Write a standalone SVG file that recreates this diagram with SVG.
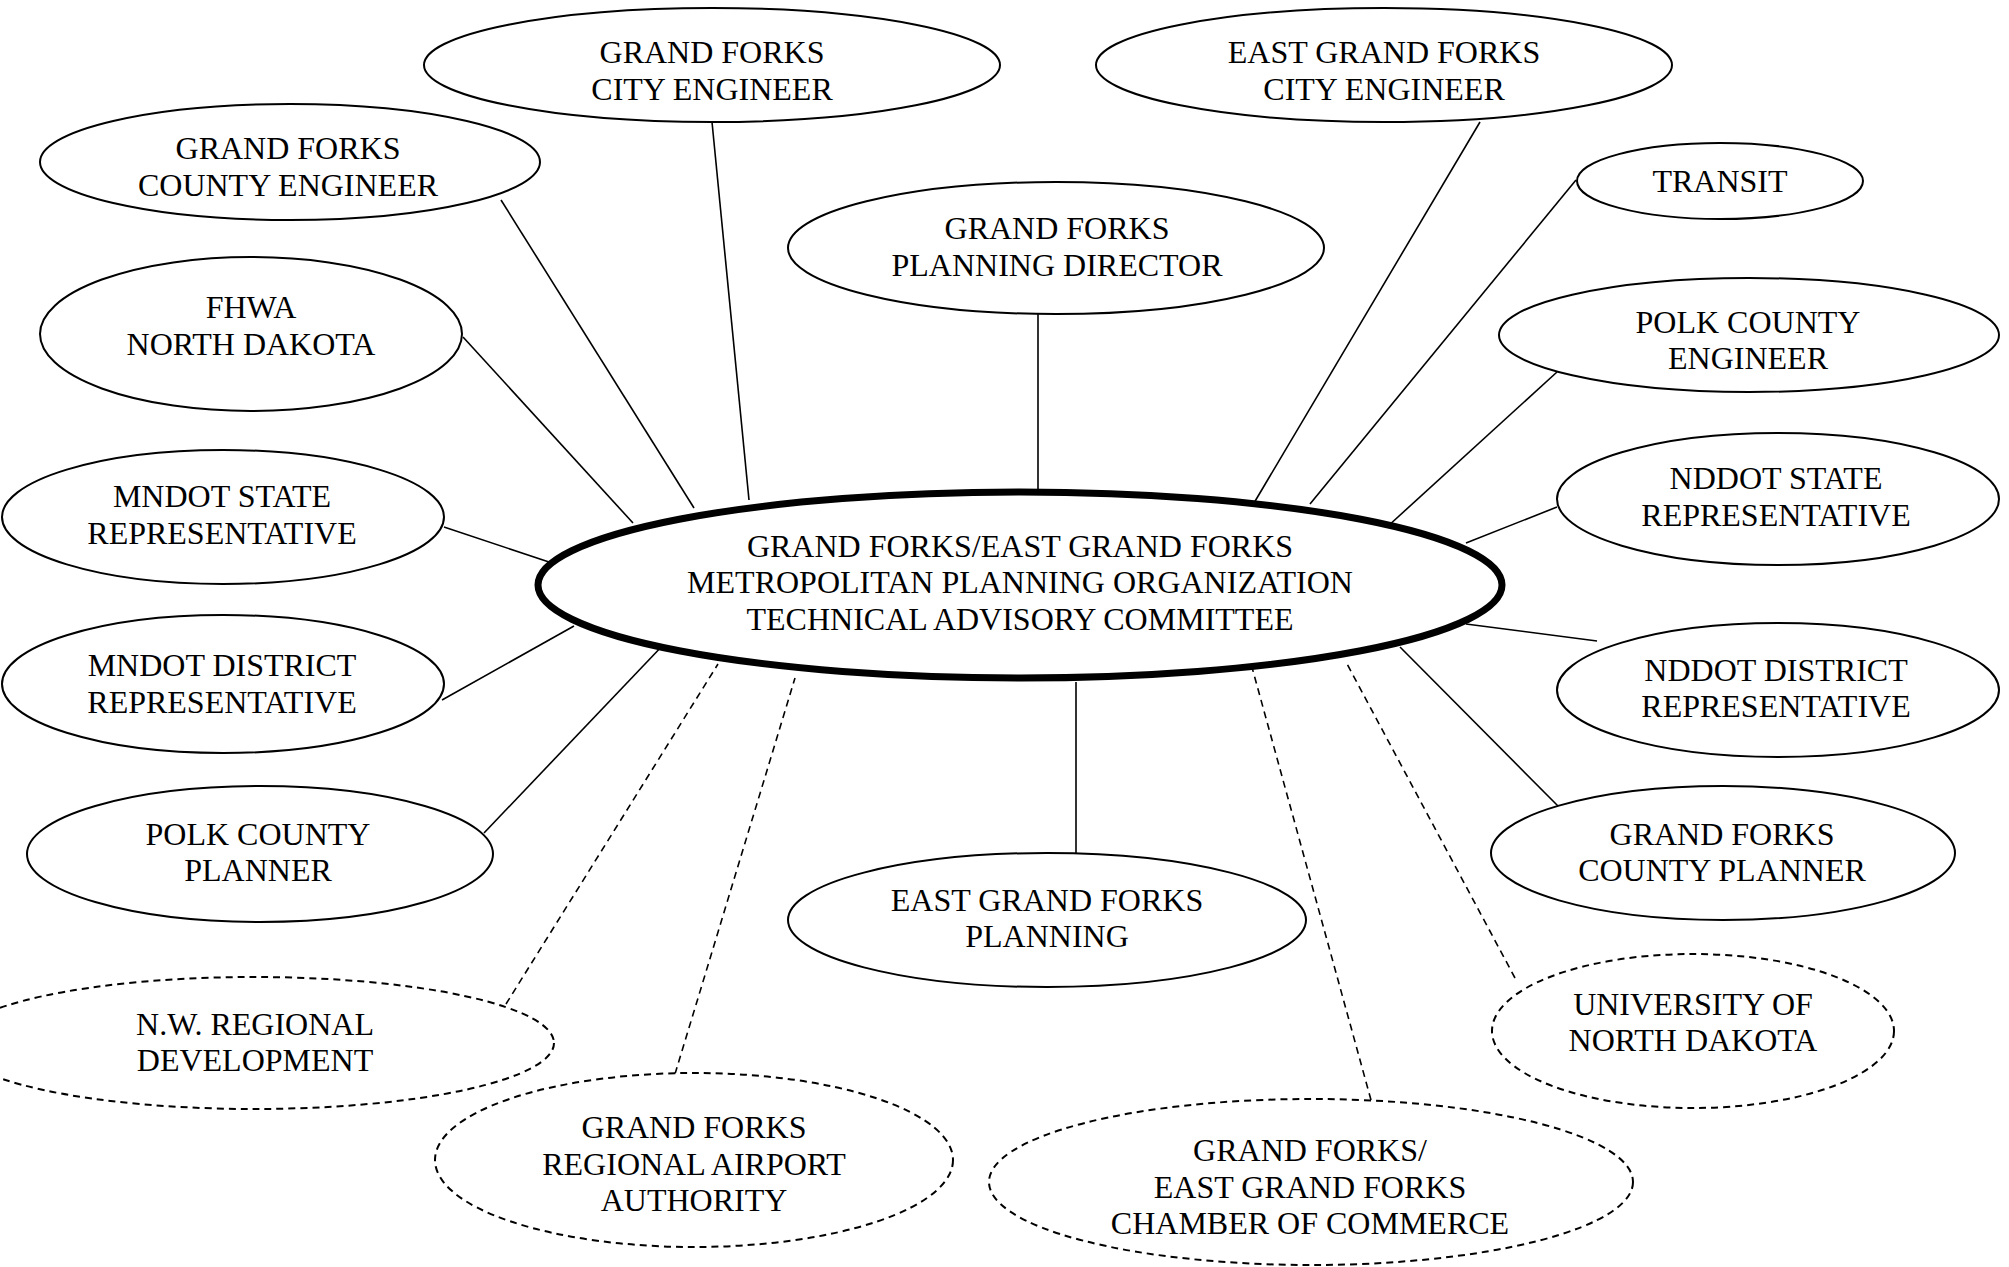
<svg xmlns="http://www.w3.org/2000/svg" width="2009" height="1267" viewBox="0 0 2009 1267">
<style>
.n{fill:#fff;stroke:#000;stroke-width:2}
.d{fill:#fff;stroke:#000;stroke-width:2;stroke-dasharray:7 5}
.c{fill:#fff;stroke:#000;stroke-width:7}
text{font-family:"Liberation Serif","Times New Roman",serif;font-size:32px;fill:#000;text-anchor:middle}
.l{stroke:#000;stroke-width:1.6;fill:none}
.ld{stroke:#000;stroke-width:1.6;fill:none;stroke-dasharray:7 5}
</style>
<g id="connectors">
<line class="l" x1="712" y1="122" x2="749" y2="500"/>
<line class="l" x1="501" y1="200" x2="694" y2="508"/>
<line class="l" x1="463" y1="337" x2="633" y2="523"/>
<line class="l" x1="444" y1="527" x2="558" y2="565"/>
<line class="l" x1="442" y1="700" x2="574" y2="626"/>
<line class="l" x1="484" y1="833" x2="665" y2="643"/>
<line class="ld" x1="506" y1="1004" x2="718" y2="664"/>
<line class="ld" x1="675" y1="1074" x2="795" y2="678"/>
<line class="l" x1="1038" y1="314" x2="1038" y2="490"/>
<line class="l" x1="1480" y1="122" x2="1251" y2="508"/>
<line class="l" x1="1576" y1="180" x2="1310" y2="504"/>
<line class="l" x1="1557" y1="372" x2="1387" y2="527"/>
<line class="l" x1="1557" y1="507" x2="1466" y2="543"/>
<line class="l" x1="1597" y1="641" x2="1466" y2="624"/>
<line class="l" x1="1562" y1="810" x2="1400" y2="647"/>
<line class="ld" x1="1515" y1="978" x2="1346" y2="662"/>
<line class="ld" x1="1371" y1="1100" x2="1250" y2="660"/>
<line class="l" x1="1076" y1="682" x2="1076" y2="854"/>
</g>
<g id="central">
<ellipse class="c" cx="1020" cy="585" rx="482" ry="93"/>
<text x="1020" y="557">GRAND FORKS/EAST GRAND FORKS</text>
<text x="1020" y="593">METROPOLITAN PLANNING ORGANIZATION</text>
<text x="1020" y="630">TECHNICAL ADVISORY COMMITTEE</text>
</g>
<g id="gf-city-engineer">
<ellipse class="n" cx="712" cy="65" rx="288" ry="57"/>
<text x="712" y="63">GRAND FORKS</text>
<text x="712" y="100">CITY ENGINEER</text>
</g>
<g id="egf-city-engineer">
<ellipse class="n" cx="1384" cy="65" rx="288" ry="57"/>
<text x="1384" y="63">EAST GRAND FORKS</text>
<text x="1384" y="100">CITY ENGINEER</text>
</g>
<g id="gf-county-engineer">
<ellipse class="n" cx="290" cy="162" rx="250" ry="58"/>
<text x="288" y="159">GRAND FORKS</text>
<text x="288" y="196">COUNTY ENGINEER</text>
</g>
<g id="transit">
<ellipse class="n" cx="1720" cy="181" rx="143" ry="38"/>
<text x="1720" y="192">TRANSIT</text>
</g>
<g id="gf-planning-director">
<ellipse class="n" cx="1056" cy="248" rx="268" ry="66"/>
<text x="1057" y="239">GRAND FORKS</text>
<text x="1057" y="276">PLANNING DIRECTOR</text>
</g>
<g id="fhwa">
<ellipse class="n" cx="251" cy="334" rx="211" ry="77"/>
<text x="251" y="318">FHWA</text>
<text x="251" y="355">NORTH DAKOTA</text>
</g>
<g id="polk-county-engineer">
<ellipse class="n" cx="1749" cy="335" rx="250" ry="57"/>
<text x="1748" y="333">POLK COUNTY</text>
<text x="1748" y="369">ENGINEER</text>
</g>
<g id="mndot-state">
<ellipse class="n" cx="223" cy="517" rx="221" ry="67"/>
<text x="222" y="507">MNDOT STATE</text>
<text x="222" y="544">REPRESENTATIVE</text>
</g>
<g id="nddot-state">
<ellipse class="n" cx="1778" cy="499" rx="221" ry="66"/>
<text x="1776" y="489">NDDOT STATE</text>
<text x="1776" y="526">REPRESENTATIVE</text>
</g>
<g id="mndot-district">
<ellipse class="n" cx="223" cy="684" rx="221" ry="69"/>
<text x="222" y="676">MNDOT DISTRICT</text>
<text x="222" y="713">REPRESENTATIVE</text>
</g>
<g id="nddot-district">
<ellipse class="n" cx="1778" cy="690" rx="221" ry="67"/>
<text x="1776" y="681">NDDOT DISTRICT</text>
<text x="1776" y="717">REPRESENTATIVE</text>
</g>
<g id="polk-county-planner">
<ellipse class="n" cx="260" cy="854" rx="233" ry="68"/>
<text x="258" y="845">POLK COUNTY</text>
<text x="258" y="881">PLANNER</text>
</g>
<g id="gf-county-planner">
<ellipse class="n" cx="1723" cy="853" rx="232" ry="67"/>
<text x="1722" y="845">GRAND FORKS</text>
<text x="1722" y="881">COUNTY PLANNER</text>
</g>
<g id="egf-planning">
<ellipse class="n" cx="1047" cy="920" rx="259" ry="67"/>
<text x="1047" y="911">EAST GRAND FORKS</text>
<text x="1047" y="947">PLANNING</text>
</g>
<g id="und">
<ellipse class="d" cx="1693" cy="1031" rx="201" ry="77"/>
<text x="1693" y="1015">UNIVERSITY OF</text>
<text x="1693" y="1051">NORTH DAKOTA</text>
</g>
<g id="nw-regional">
<ellipse class="d" cx="254" cy="1043" rx="300" ry="66"/>
<text x="255" y="1035">N.W. REGIONAL</text>
<text x="255" y="1071">DEVELOPMENT</text>
</g>
<g id="gf-airport">
<ellipse class="d" cx="694" cy="1160" rx="259" ry="87"/>
<text x="694" y="1138">GRAND FORKS</text>
<text x="694" y="1175">REGIONAL AIRPORT</text>
<text x="694" y="1211">AUTHORITY</text>
</g>
<g id="chamber">
<ellipse class="d" cx="1311" cy="1182" rx="322" ry="83"/>
<text x="1310" y="1161">GRAND FORKS/</text>
<text x="1310" y="1198">EAST GRAND FORKS</text>
<text x="1310" y="1234">CHAMBER OF COMMERCE</text>
</g>
</svg>
